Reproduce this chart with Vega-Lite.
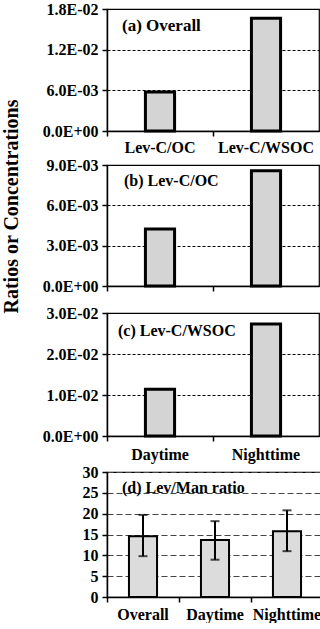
{
  "$schema": "https://vega.github.io/schema/vega-lite/v6.json",
  "background": "white",
  "padding": {"left": 2, "top": 0, "right": 0, "bottom": 0},
  "title": {"text": "Ratios or Concentrations", "orient": "left", "anchor": "middle", "font": "Liberation Serif", "fontSize": 20, "fontWeight": "bold", "color": "black", "offset": 14, "dx": 105},
  "spacing": 0,
  "vconcat": [
    {
      "width": 212, "height": 122,
      "layer": [
        {
          "data": {"values": [{"category": "Lev-C/OC", "value": 0.00574}, {"category": "Lev-C/WSOC", "value": 0.01663}]},
          "mark": {"type": "bar", "fill": "#d4d4d4", "stroke": "black", "strokeWidth": 3, "width": {"band": 0.275}},
          "encoding": {
            "x": {"field": "category", "type": "nominal", "sort": null, "scale": {"paddingInner": 0, "paddingOuter": 0}, "axis": {"title": null, "labelAngle": 0, "bandPosition": 0, "labelPadding": 3, "labelFontWeight": "bold"}},
            "y": {"field": "value", "type": "quantitative", "scale": {"domain": [0, 0.018], "nice": false}, "axis": {"title": null, "labelFontWeight": "bold", "values": [0, 0.006, 0.012, 0.018], "labelExpr": "datum.value == 0 ? '0.0E+00' : replace(format(datum.value, '.1e'), 'e-', 'E-0')"}}
          }
        },
        {
          "data": {"values": [{"label": "(a) Overall"}]},
          "mark": {"type": "text", "align": "left", "baseline": "alphabetic", "dx": 15, "dy": 22, "fontSize": 17, "fontWeight": "bold", "font": "Liberation Serif", "color": "black"},
          "encoding": {
            "x": {"datum": "Lev-C/OC", "type": "nominal", "bandPosition": 0},
            "y": {"datum": 0.018, "type": "quantitative"},
            "text": {"field": "label"}
          }
        }
      ]
    },
    {
      "width": 212, "height": 121,
      "layer": [
        {
          "data": {"values": [{"category": "Daytime", "value": 0.00424}, {"category": "Nighttime", "value": 0.00858}]},
          "mark": {"type": "bar", "fill": "#d4d4d4", "stroke": "black", "strokeWidth": 3, "width": {"band": 0.275}},
          "encoding": {
            "x": {"field": "category", "type": "nominal", "sort": null, "scale": {"paddingInner": 0, "paddingOuter": 0}, "axis": {"title": null, "labels": false, "bandPosition": 0, "minExtent": 17}},
            "y": {"field": "value", "type": "quantitative", "scale": {"domain": [0, 0.009], "nice": false}, "axis": {"title": null, "labelFontWeight": "bold", "values": [0, 0.003, 0.006, 0.009], "labelExpr": "datum.value == 0 ? '0.0E+00' : replace(format(datum.value, '.1e'), 'e-', 'E-0')"}}
          }
        },
        {
          "data": {"values": [{"label": "(b) Lev-C/OC"}]},
          "mark": {"type": "text", "align": "left", "baseline": "alphabetic", "dx": 17, "dy": 21, "fontSize": 16, "fontWeight": "bold", "font": "Liberation Serif", "color": "black"},
          "encoding": {
            "x": {"datum": "Daytime", "type": "nominal", "bandPosition": 0},
            "y": {"datum": 0.009, "type": "quantitative"},
            "text": {"field": "label"}
          }
        }
      ]
    },
    {
      "width": 212, "height": 123,
      "layer": [
        {
          "data": {"values": [{"category": "Daytime", "value": 0.0114}, {"category": "Nighttime", "value": 0.0273}]},
          "mark": {"type": "bar", "fill": "#d4d4d4", "stroke": "black", "strokeWidth": 3, "width": {"band": 0.275}},
          "encoding": {
            "x": {"field": "category", "type": "nominal", "sort": null, "scale": {"paddingInner": 0, "paddingOuter": 0}, "axis": {"title": null, "labelAngle": 0, "bandPosition": 0, "labelPadding": 5, "labelFontWeight": "bold"}},
            "y": {"field": "value", "type": "quantitative", "scale": {"domain": [0, 0.03], "nice": false}, "axis": {"title": null, "labelFontWeight": "bold", "values": [0, 0.01, 0.02, 0.03], "labelExpr": "datum.value == 0 ? '0.0E+00' : replace(format(datum.value, '.1e'), 'e-', 'E-0')"}}
          }
        },
        {
          "data": {"values": [{"label": "(c) Lev-C/WSOC"}]},
          "mark": {"type": "text", "align": "left", "baseline": "alphabetic", "dx": 11, "dy": 23, "fontSize": 16, "fontWeight": "bold", "font": "Liberation Serif", "color": "black"},
          "encoding": {
            "x": {"datum": "Daytime", "type": "nominal", "bandPosition": 0},
            "y": {"datum": 0.03, "type": "quantitative"},
            "text": {"field": "label"}
          }
        }
      ]
    },
    {
      "width": 216, "height": 125,
      "layer": [
        {
          "data": {"values": [
            {"category": "Overall", "value": 14.6, "low": 9.8, "high": 19.7},
            {"category": "Daytime", "value": 13.7, "low": 8.95, "high": 18.2},
            {"category": "Nighttime", "value": 15.8, "low": 11.0, "high": 20.8}
          ]},
          "encoding": {
            "x": {"field": "category", "type": "nominal", "sort": null, "scale": {"paddingInner": 0, "paddingOuter": 0}, "axis": {"title": null, "labelAngle": 0, "bandPosition": 0, "labelPadding": 4, "labelFontWeight": "bold"}}
          },
          "layer": [
            {
              "mark": {"type": "bar", "fill": "#dcdcdc", "stroke": "black", "strokeWidth": 2, "width": {"band": 0.39}},
              "encoding": {
                "y": {"field": "value", "type": "quantitative", "scale": {"domain": [0, 30], "nice": false}, "axis": {"title": null, "labelFontWeight": "bold", "values": [0, 5, 10, 15, 20, 25, 30], "labelOverlap": false, "gridDash": [6, 3], "gridColor": "#444"}}
              }
            },
            {
              "mark": {"type": "rule", "stroke": "black", "strokeWidth": 2},
              "encoding": {"y": {"field": "low", "type": "quantitative", "axis": {"title": null, "labelFontWeight": "bold", "values": [0, 5, 10, 15, 20, 25, 30], "labelOverlap": false, "gridDash": [6, 3], "gridColor": "#444"}}, "y2": {"field": "high"}}
            },
            {
              "mark": {"type": "tick", "color": "black", "size": 9, "thickness": 2},
              "encoding": {"y": {"field": "low", "type": "quantitative", "axis": {"title": null, "labelFontWeight": "bold", "values": [0, 5, 10, 15, 20, 25, 30], "labelOverlap": false, "gridDash": [6, 3], "gridColor": "#444"}}}
            },
            {
              "mark": {"type": "tick", "color": "black", "size": 9, "thickness": 2},
              "encoding": {"y": {"field": "high", "type": "quantitative", "axis": {"title": null, "labelFontWeight": "bold", "values": [0, 5, 10, 15, 20, 25, 30], "labelOverlap": false, "gridDash": [6, 3], "gridColor": "#444"}}}
            }
          ]
        },
        {
          "data": {"values": [{"label": "(d) Lev/Man ratio"}]},
          "mark": {"type": "text", "align": "left", "baseline": "alphabetic", "dx": 15, "dy": 21, "fontSize": 16, "fontWeight": "bold", "font": "Liberation Serif", "color": "black"},
          "encoding": {
            "x": {"datum": "Overall", "type": "nominal", "bandPosition": 0},
            "y": {"datum": 30, "type": "quantitative", "axis": {"title": null, "labelFontWeight": "bold", "values": [0, 5, 10, 15, 20, 25, 30], "labelOverlap": false, "gridDash": [6, 3], "gridColor": "#444"}},
            "text": {"field": "label"}
          }
        }
      ]
    }
  ],
  "config": {
    "font": "Liberation Serif",
    "view": {"stroke": "black", "strokeWidth": 1.2},
    "title": {"font": "Liberation Serif", "fontWeight": "bold", "color": "black"},
    "axis": {"labelFont": "Liberation Serif", "labelFontWeight": "bold", "labelFontSize": 16, "labelColor": "black", "domainColor": "black", "domainWidth": 1.5, "tickColor": "black", "tickWidth": 1.5, "tickSize": 5, "gridColor": "black", "gridDash": [3, 2], "gridOpacity": 1, "labelPadding": 4},
    "axisX": {"labelFontWeight": "bold"},
    "axisY": {"minExtent": 70, "labelFontWeight": "bold"}
  }
}
